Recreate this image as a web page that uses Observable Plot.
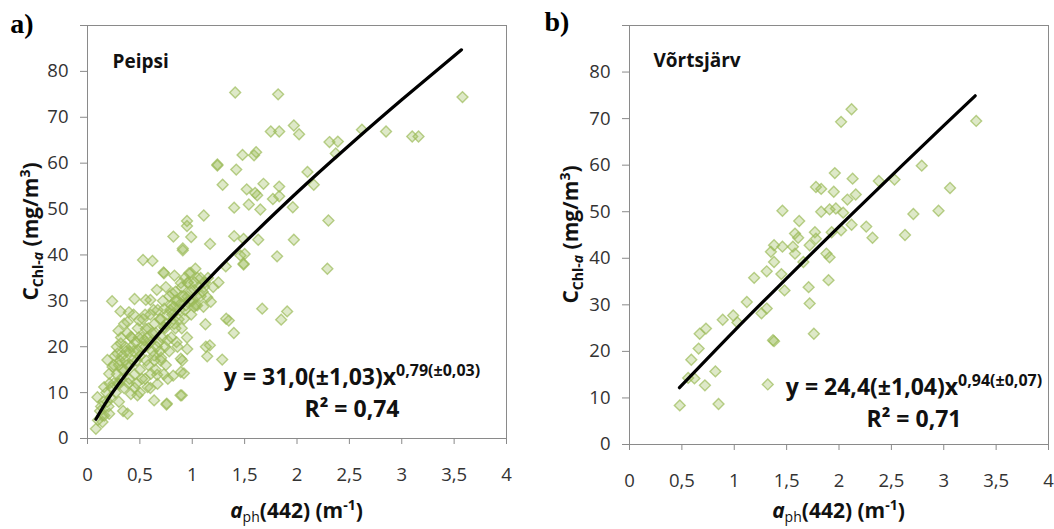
<!DOCTYPE html>
<html><head><meta charset="utf-8">
<script src="https://cdn.jsdelivr.net/npm/d3@7"></script>
<script src="https://cdn.jsdelivr.net/npm/@observablehq/plot@0.6"></script>
<style>
body{margin:0;background:#fff;}
#wrap{position:relative;width:1054px;height:529px;overflow:hidden;background:#fff;}
#wrap svg{position:absolute;top:0;}
</style></head><body><div id="wrap"></div>
<script>
// ---- axis ticks ----
const xTicks = [0, 0.5, 1, 1.5, 2, 2.5, 3, 3.5, 4];
const yTicks = [0, 10, 20, 30, 40, 50, 60, 70, 80, 90];
const yLabelMax = 80;

// ---- panel a) Peipsi : [aph(442), Chl-a] ----
const peipsiPoints = [
[1.41,75.4],[1.82,75.0],[3.58,74.4],
[1.75,66.9],[1.83,66.9],[1.97,68.2],[2.02,66.3],[2.62,67.3],[2.85,66.9],[3.10,65.8],[3.16,65.8],
[2.31,64.6],[2.39,64.7],[2.37,62.1],[1.48,61.8],[1.59,61.7],[1.61,62.4],[1.24,59.5],[1.24,59.7],[1.42,58.6],[2.10,58.1],
[1.29,55.3],[1.68,55.5],[1.83,54.9],[1.52,54.3],[1.62,53.0],[1.60,53.5],[1.77,52.2],[1.83,52.8],[2.16,55.3],
[1.54,51.0],[1.40,50.3],[1.65,49.9],[1.96,50.4],[2.30,47.5],[1.11,48.6],[0.95,47.4],[0.95,46.3],[0.99,43.9],[0.91,41.4],
[1.17,42.4],[1.40,44.1],[1.49,43.5],[1.63,43.3],[1.97,43.3],[1.81,39.7],[1.49,38.1],[1.46,39.9],[2.29,37.0],[1.32,37.5],
[0.82,44.0],[0.53,38.9],[0.62,38.7],[0.91,41.0],[0.73,36.0],[0.83,35.5],[1.50,40.2],[1.49,37.9],
[0.235,29.9],[0.315,27.7],[0.395,27.5],[0.449,30.4],[0.601,30.2],[1.668,28.3],[1.906,27.7],[1.849,25.9],[1.324,26.1],[1.349,25.7],
[1.397,23.0],[1.126,24.9],[1.047,29.0],[1.143,30.8],[1.168,20.3],[1.143,17.9],[1.286,17.2],[0.952,19.5],[0.904,17.0],[0.92,14.2],
[0.888,9.4],[0.754,7.4],[0.818,13.7],[0.767,13.0],[0.665,13.9],[0.703,17.6],
[0.726,36.2],[0.662,32.4],[0.748,33.0],[0.557,30.2],[0.296,23.5],[0.382,25.4],[0.493,25.7],[0.557,23.9],[0.732,24.3],[0.827,25.0],
[0.923,26.1],[0.764,21.4],[0.859,20.0],[1.13,20.0],[0.891,17.4],[0.891,14.5],[0.748,16.0],[0.605,14.1],[0.573,11.2],[0.477,9.4],
[0.90,9.4],[0.757,7.6],[0.636,8.3],[0.382,5.4],[0.207,5.4],[0.08,2.1],[0.143,3.6],[0.095,9.0],[0.159,11.2],[0.207,14.1],
[0.239,15.6],[0.19,17.1],[0.286,18.5],[0.318,20.7],[0.414,22.2],[0.477,19.3],[0.35,14.8],[0.302,11.9],[0.414,9.7],[0.636,18.1],
[0.668,11.9],[0.541,21.4],[0.732,28.3],[0.827,28.7],[0.891,29.4],[0.955,30.9],[1.018,32.4],[1.114,33.0],[0.955,33.9],[1.05,35.0],
[0.986,36.1],[0.891,33.9],[0.811,31.6],[1.018,28.7],[1.107,28.7],[1.177,29.8],
[0.12,6],[0.15,8],[0.18,10],[0.2,7],[0.22,9],[0.25,12],[0.27,10],[0.28,14],[0.3,16],[0.32,13],
[0.33,18],[0.35,11],[0.36,20],[0.38,16],[0.4,13],[0.4,19],[0.42,22],[0.43,17],[0.45,14],[0.46,21],
[0.48,24],[0.5,18],[0.5,15],[0.52,22],[0.53,26],[0.55,20],[0.56,17],[0.58,24],[0.6,21],[0.6,27],
[0.62,19],[0.64,25],[0.65,23],[0.67,28],[0.68,21],[0.7,26],[0.72,30],[0.74,24],[0.76,27],[0.78,31],
[0.8,29],[0.82,26],[0.84,32],[0.86,30],[0.88,28],[0.9,33],[0.92,31],[0.94,29],[0.96,34],[0.98,32],
[1.0,30],[1.02,34],[1.04,31],[1.06,33],[1.08,35],[1.1,32],[0.25,16],[0.28,20],[0.32,22],[0.35,25],
[0.38,23],[0.44,27],[0.47,12],[0.5,10],[0.55,13],[0.6,11],[0.65,15],[0.7,17],[0.73,14],[0.78,19],
[0.8,22],[0.85,21],[0.9,24],[0.95,22],[0.16,5],[0.1,4],[0.13,7],[0.3,8],[0.34,6],
[0.26,18],[0.31,17],[0.37,19],[0.41,16],[0.44,19],[0.47,17],[0.52,20],[0.57,22],[0.62,23],[0.66,20],
[0.71,22],[0.75,25],[0.81,27],[0.87,26],[0.93,28],[0.97,30],[1.03,29],[1.08,31],[0.9,31],[0.84,30],
[0.79,28],[0.69,26],[0.63,28],[0.55,27],[0.49,22],[0.42,20],[0.36,17],[0.29,12],[0.23,11],[0.19,8],
[0.14,5],[0.21,12],[0.33,15],[0.39,12],[0.45,11],[0.52,13],[0.58,16],[0.64,17],[0.69,19],[0.74,20],
[0.84,24],[0.99,27],[1.12,34],[1.15,35],[1.2,33],[1.25,34],[0.97,36],[0.93,35],[1.03,37]
];
// fitted power curve
const peipsiFitX = [0.08, 0.2, 0.35, 0.5, 0.75, 1, 1.25, 1.5, 2, 2.5, 3, 3.57];
const peipsiFitY = [4.2, 8.7, 13.5, 17.9, 24.7, 31.0, 37.0, 42.7, 53.6, 63.9, 73.8, 84.7];

// ---- panel b) Võrtsjärv ----
const vortsPoints = [
[2.12,72.0],[2.02,69.3],[3.31,69.5],[2.79,59.9],[3.06,55.1],[1.96,58.3],[2.13,57.1],[2.38,56.6],[2.53,56.9],[1.78,55.3],
[1.83,54.9],[1.95,54.3],[2.16,53.7],[2.08,52.6],[1.46,50.2],[1.83,50.0],[1.91,50.5],[1.97,50.7],[2.04,49.8],[2.71,49.5],
[2.95,50.2],[1.62,48.0],[2.12,47.2],[2.26,46.8],[2.32,44.4],[2.63,45.0],[1.58,45.3],[1.77,45.6],[1.93,45.6],[2.02,46.0],
[1.78,44.2],[1.61,44.4],[1.38,42.8],[1.46,42.5],[1.56,42.5],[1.72,42.8],[1.35,41.4],[1.58,41.0],[1.88,41.0],[1.91,40.2],
[1.38,39.2],[1.66,39.2],[1.31,37.2],[1.45,36.6],[1.19,35.8],[1.90,35.3],[1.71,33.8],[1.48,33.1],[1.72,30.3],[1.12,30.6],
[1.31,29.2],[1.26,28.2],[0.99,27.7],[0.89,26.8],[1.03,26.2],[0.73,24.9],[0.67,23.8],[1.76,23.8],[1.37,22.4],[1.38,22.2],
[0.66,20.6],[0.59,18.2],[0.82,15.7],[0.56,14.3],[0.62,14.2],[0.72,12.7],[1.32,12.9],[0.48,8.4],[0.85,8.7]
];
const vortsFitX = [0.477, 1, 1.5, 2, 2.5, 3, 3.3];
const vortsFitY = [12.2, 24.4, 35.7, 46.8, 57.7, 68.5, 74.9];

const toRows = pts => pts.map(([x, y]) => ({x, y}));
const zipRows = (xs, ys) => xs.map((x, i) => ({x, y: ys[i]}));

const FONT = "'Open Sans', 'Noto Sans', sans-serif";
const GRID = "#8a8a8a";

function makePanel(cfg) {
  const chart = Plot.plot({
    width: 527, height: 529,
    marginLeft: cfg.marginLeft, marginRight: cfg.marginRight,
    marginTop: 25, marginBottom: cfg.marginBottom,
    style: {fontFamily: FONT, fontSize: "18.5px", background: "transparent", overflow: "visible"},
    x: {domain: [0, 4]},
    y: {domain: [0, 90]},
    marks: [
      Plot.frame({stroke: GRID, strokeWidth: 1}),
      Plot.axisX({ticks: xTicks, tickFormat: d => String(d).replace(".", ","), tickSize: 6, tickPadding: 23,
        stroke: GRID, fill: "#333", label: null}),
      Plot.axisY({ticks: yTicks, tickFormat: d => d > yLabelMax ? "" : String(d), tickSize: 7, tickPadding: 12,
        stroke: GRID, fill: "#333", label: null}),
      Plot.dot(toRows(cfg.points), {x: "x", y: "y", symbol: "diamond2", r: 4.9,
        fill: "#9bbb59", fillOpacity: 0.33, stroke: "#9bbb59", strokeOpacity: 0.7, strokeWidth: 1.4}),
      Plot.line(zipRows(cfg.fitX, cfg.fitY), {x: "x", y: "y", stroke: "#000", strokeWidth: 3.2, curve: "natural"}),
      Plot.text([cfg.lake], {frameAnchor: "top-left", dx: cfg.lakeDx, dy: cfg.lakeDy, text: d => d,
        fontWeight: "bold", fontSize: 19, fill: "#111", textAnchor: "start", lineAnchor: "bottom"})
    ]
  });
  chart.style.left = cfg.left + "px";
  const svg = d3.select(chart);
  const W = 527;
  const plotCx = cfg.marginLeft + (W - cfg.marginLeft - cfg.marginRight) / 2;
  const plotCy = 25 + (529 - 25 - cfg.marginBottom) / 2;

  // panel letter
  svg.append("text").attr("x", cfg.letterX).attr("y", cfg.letterY)
    .attr("font-family", "'Liberation Serif', 'Times New Roman', serif").attr("font-weight", "bold")
    .attr("font-size", 28).attr("fill", "#000").text(cfg.letter);

  // x axis title  a_ph(442) (m-1)
  const xt = svg.append("text").attr("x", plotCx).attr("y", 518).attr("text-anchor", "middle")
    .attr("font-family", FONT).attr("font-weight", "bold").attr("font-size", 21).attr("fill", "#111");
  xt.append("tspan").attr("font-style", "italic").text("a");
  xt.append("tspan").attr("dy", 4).attr("font-size", 14).attr("font-weight", "normal").text("ph");
  xt.append("tspan").attr("dy", -4).text("(442) (m");
  xt.append("tspan").attr("dy", -8).attr("font-size", 14).text("-1");
  xt.append("tspan").attr("dy", 8).text(")");

  // y axis title  C_Chl-a (mg/m3)
  const yt = svg.append("text").attr("transform", `translate(${cfg.yTitleX},${plotCy}) rotate(-90)`)
    .attr("text-anchor", "middle").attr("font-family", FONT).attr("font-weight", "bold")
    .attr("font-size", 21).attr("fill", "#111");
  yt.append("tspan").text("C");
  yt.append("tspan").attr("dy", 5).attr("font-size", 14).text("Chl-");
  yt.append("tspan").attr("font-size", 14).attr("font-style", "italic").text("a");
  yt.append("tspan").attr("dy", -5).text(" (mg/m");
  yt.append("tspan").attr("dy", -8).attr("font-size", 14).text("3");
  yt.append("tspan").attr("dy", 8).text(")");

  // equation
  const eq = svg.append("text").attr("x", cfg.eqX).attr("y", cfg.eqY).attr("text-anchor", "middle")
    .attr("font-family", FONT).attr("font-weight", "bold").attr("font-size", 23).attr("fill", "#111");
  eq.append("tspan").text(cfg.eqMain);
  eq.append("tspan").attr("dy", -9).attr("font-size", 16).text(cfg.eqSup);
  svg.append("text").attr("x", cfg.eqX).attr("y", cfg.eqY + 32).attr("text-anchor", "middle")
    .attr("font-family", FONT).attr("font-weight", "bold").attr("font-size", 23).attr("fill", "#111")
    .text(cfg.r2);

  document.getElementById("wrap").appendChild(chart);
}

makePanel({
  left: 0, marginLeft: 87, marginRight: 21, marginBottom: 91,
  points: peipsiPoints, fitX: peipsiFitX, fitY: peipsiFitY,
  lake: "Peipsi", lakeDx: 25, lakeDy: 42,
  letter: "a)", letterX: 22, letterY: 33, yTitleX: 38,
  eqX: 352, eqY: 385, eqMain: "y = 31,0(±1,03)x", eqSup: "0,79(±0,03)", r2: "R² = 0,74"
});
makePanel({
  left: 527, marginLeft: 102, marginRight: 6, marginBottom: 85,
  points: vortsPoints, fitX: vortsFitX, fitY: vortsFitY,
  lake: "Võrtsjärv", lakeDx: 24, lakeDy: 41,
  letter: "b)", letterX: 30, letterY: 31, yTitleX: 51,
  eqX: 387, eqY: 395, eqMain: "y = 24,4(±1,04)x", eqSup: "0,94(±0,07)", r2: "R² = 0,71"
});
</script></body></html>
